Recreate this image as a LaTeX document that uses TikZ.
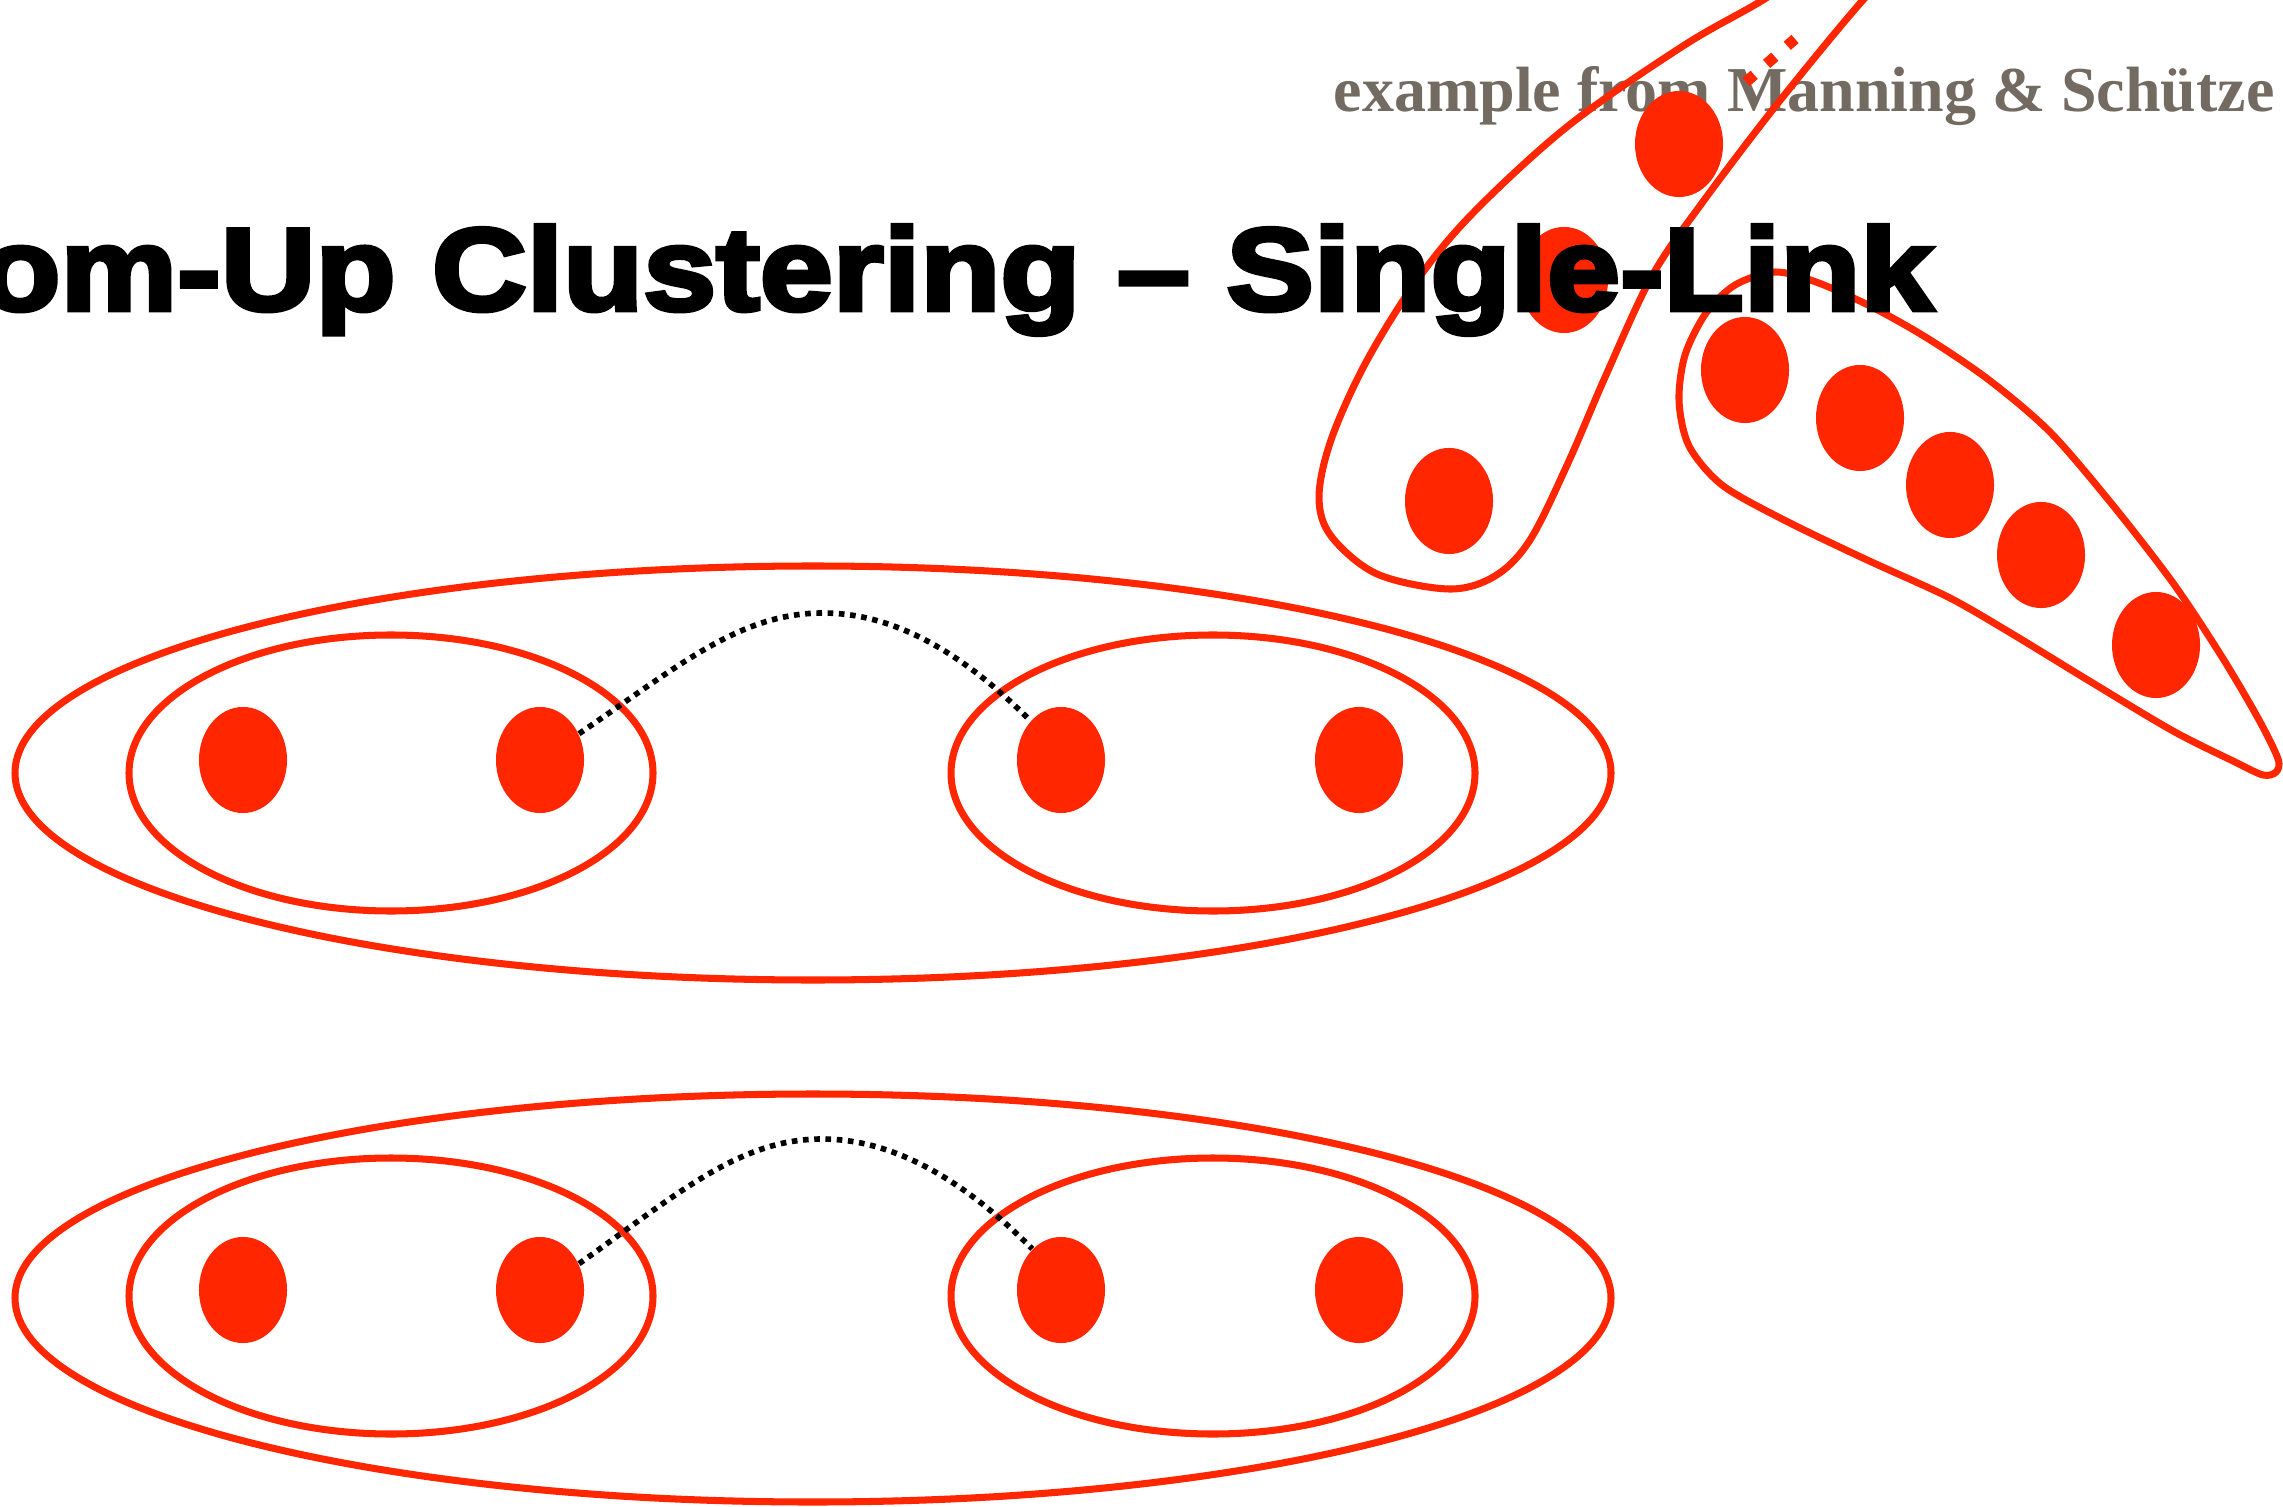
\documentclass[tikz,border=0pt]{standalone}
\usepackage{fontspec}
\setmainfont{Liberation Serif}
\newfontfamily\titlefont[FakeStretch=1.12,BoldFeatures={FakeBold=4}]{Liberation Sans}
\newfontfamily\notefont{Liberation Serif}
\usetikzlibrary{shapes.geometric}
\definecolor{kred}{RGB}{255,38,0}
\definecolor{kgray}{RGB}{115,107,98}
\begin{document}
\begin{tikzpicture}[x=0.01cm,y=-0.01cm,
  ring/.style={draw=kred,line width=2pt},
  pt/.style={ellipse,fill=kred,draw=none,inner sep=0pt,minimum width=0.88cm,minimum height=1.06cm},
  link/.style={black,line width=1.6pt,dash pattern=on 1.6pt off 1.6pt}]
\useasboundingbox (0,0) rectangle (2283,1507);
\clip (0,0) rectangle (2283,1507);
\fill[white] (0,0) rectangle (2283,1507);

% source note
\node[anchor=base west, inner sep=0pt, text=kgray, font=\notefont\bfseries\fontsize{18.2pt}{22pt}\selectfont] (src) at (1333,112) {example from Manning \& Schütze};

% top group
\draw[ring] (813,773) ellipse [x radius=798, y radius=207];
\draw[ring] (391,773) ellipse [x radius=262, y radius=138];
\draw[ring] (1213,773) ellipse [x radius=262, y radius=138];
\node[pt] (a1) at (243,760) {};
\node[pt] (a2) at (540,760) {};
\node[pt] (b1) at (1061,760) {};
\node[pt] (b2) at (1359,760) {};
\draw[link] (a2.34) .. controls (680,665) and (740,613) .. (823,613) .. controls (900,613) and (970,660) .. (b1.128);

% bottom group
\draw[ring] (813,1298) ellipse [x radius=798, y radius=204];
\draw[ring] (391,1296) ellipse [x radius=262, y radius=138];
\draw[ring] (1213,1296) ellipse [x radius=262, y radius=138];
\node[pt] (c1) at (243,1290) {};
\node[pt] (c2) at (540,1290) {};
\node[pt] (d1) at (1061,1290) {};
\node[pt] (d2) at (1359,1290) {};
\draw[link] (c2.34) .. controls (680,1192) and (740,1139) .. (822,1139) .. controls (900,1139) and (972,1188) .. (d1.125);

% top-right loops
\draw[ring] plot[smooth cycle, tension=0.55] coordinates {
  (1880,-75) (1905,-40) (1863,0) (1778,103) (1702,203) (1652,276) (1606,375)
  (1568,463) (1530,540) (1495,576) (1449,589) (1377,574) (1331,536) (1319,497)
  (1331,440) (1365,364) (1415,283) (1472,214) (1568,126) (1683,46) (1763,0) (1840,-50)};
\node[pt] (e1) at (1679,144) {};
\node[pt] (e2) at (1564,280) {};
\node[pt] (e3) at (1449,501) {};

\draw[ring] plot[smooth cycle, tension=0.5] coordinates {
  (1775,272) (1816,282) (1870,306) (1927,338) (1989,380) (2050,432) (2111,503)
  (2173,583) (2222,657) (2259,720) (2278,759) (2276,772) (2263,775) (2235,762)
  (2173,731) (2091,682) (2009,632) (1948,597) (1865,559) (1784,520) (1722,485)
  (1689,446) (1679,401) (1685,355) (1706,313) (1735,285)};
\node[pt] (f1) at (1745,370) {};
\node[pt] (f2) at (1860,418) {};
\node[pt] (f3) at (1950,485) {};
\node[pt] (f4) at (2041,555) {};
\node[pt] (f5) at (2156,645) {};

\coordinate (m1) at (1746,82);
\coordinate (m2) at (1795,39);
\draw[kred, line width=3.1pt, dash pattern=on 3.1pt off 4.7pt] (m1) -- (m2);

% title
\node[anchor=base east, inner sep=0pt, font=\titlefont\bfseries\fontsize{33.3pt}{40pt}\selectfont] (title) at (1934,310) {Bottom-Up Clustering – Single-Link};
\end{tikzpicture}
\end{document}
